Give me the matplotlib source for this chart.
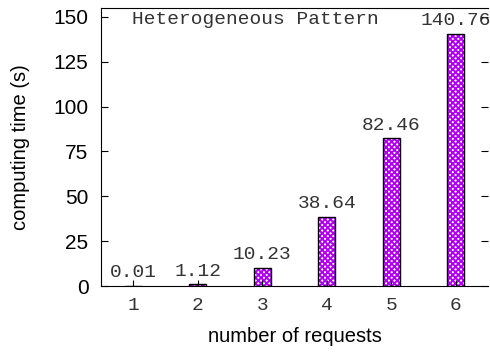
import matplotlib.pyplot as plt

requests = [1, 2, 3, 4, 5, 6]
times = [0.01, 1.12, 10.23, 38.64, 82.46, 140.76]
labels = ['0.01', '1.12', '10.23', '38.64', '82.46', '140.76']
yticks = [0, 25, 50, 75, 100, 125, 150]

plt.rcParams['font.family'] = ['Liberation Sans', 'DejaVu Sans']
plt.rcParams['hatch.linewidth'] = 1.4
mono = 'Liberation Mono'
txtgray = '#333333'

fig = plt.figure(figsize=(4.9, 3.52), dpi=100)
ax = fig.add_axes([101/490, 1-286/352, (488-101)/490, (286-8)/352])

# hatched purple fill, then black outline on top
ax.bar(requests, times, width=0.27, color='white', edgecolor='#b000f0',
       linewidth=0, hatch='xxxxxx')
ax.bar(requests, times, width=0.27, fill=False, edgecolor='black', linewidth=1.0)
for x, v, s in zip(requests, times, labels):
    ax.text(x, v + 2.5, s, ha='center', va='bottom', family=mono,
            fontsize=14, color=txtgray)

ax.text(0.08, 0.99, 'Heterogeneous Pattern', transform=ax.transAxes,
        ha='left', va='top', family=mono, fontsize=14, color=txtgray)

ax.set_xlim(0.5, 6.5)
ax.set_ylim(0, 155)
ax.set_xticks(requests)
ax.set_xticklabels([str(r) for r in requests], family=mono, fontsize=14,
                   color=txtgray)
ax.set_yticks(yticks)
ax.tick_params(axis='y', direction='in', right=True, length=5, labelsize=15, pad=9)
ax.tick_params(axis='x', direction='in', length=4, pad=8)
ax.spines['right'].set_visible(False)
ax.set_xlabel('number of requests', fontsize=14.5, labelpad=9)
ax.set_ylabel('computing time (s)', fontsize=14.5, labelpad=17)

plt.savefig('out.png')
